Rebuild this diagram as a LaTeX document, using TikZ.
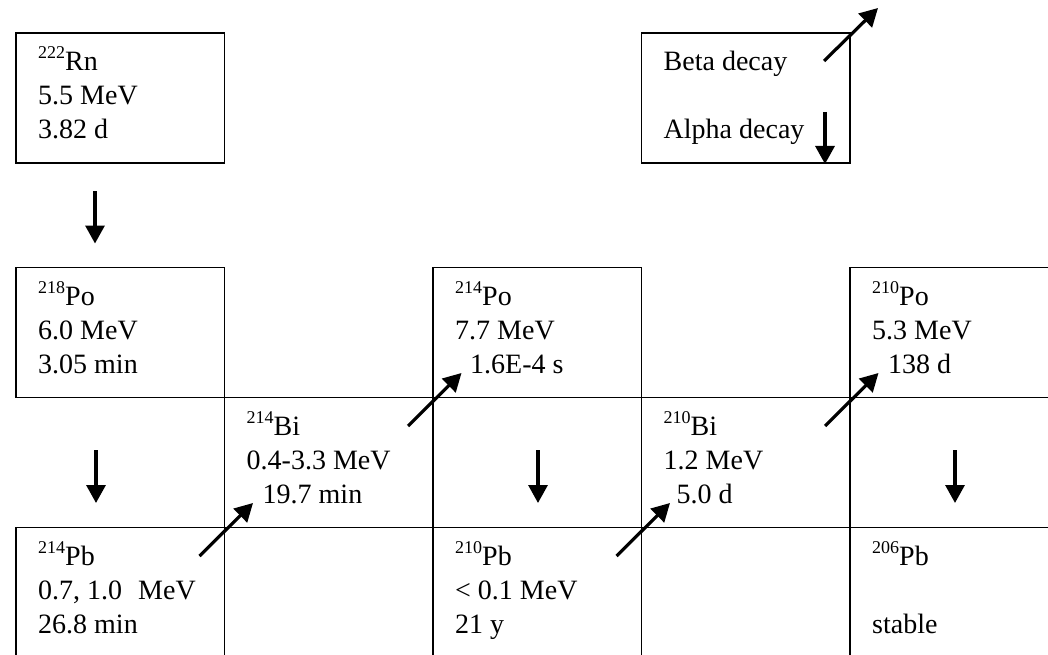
\documentclass[tikz,border=0pt]{standalone}
\usepackage{fontspec}
\setmainfont{Liberation Serif}
\usetikzlibrary{arrows.meta}
\newcommand\iso[2]{{\fontsize{18}{18}\selectfont\raisebox{12pt}{#1}}#2}
\newcommand\cellbox[6]{%
  \node[cell] (#1) at (#2pt,#3pt) {};
  \node[txt] (#1-a) at ([shift={(22pt,-37.5pt)}]#1.north west) {#4};
  \node[txt] (#1-b) at ([shift={(22pt,-71.5pt)}]#1.north west) {#5};
  \node[txt] (#1-c) at ([shift={(22pt,-105.5pt)}]#1.north west) {#6};
}
\begin{document}
\begin{tikzpicture}[x=1pt,y=1pt,
  cell/.style={draw,line width=1.6pt,anchor=north west,minimum width=208.5pt,minimum height=130pt,inner sep=0pt,outer sep=0pt},
  txt/.style={anchor=base west,inner sep=0pt,font=\fontsize{28}{34}\selectfont},
  decay/.style={line width=3.2pt,-{Triangle[width=19pt,length=18pt]}}]
\useasboundingbox (0,-655) rectangle (1048,0);
\clip (0,-655) rectangle (1048,0);
% boxes
\cellbox{rn}{16}{-33}{\iso{222}{Rn}}{5.5 MeV}{3.82 d}
\cellbox{legend}{641.5}{-33}{Beta decay}{}{Alpha decay}
\cellbox{po218}{16}{-267.5}{\iso{218}{Po}}{6.0 MeV}{3.05 min}
\cellbox{bi214}{224.5}{-397.5}{\iso{214}{Bi}}{0.4-3.3 MeV}{\hspace{16pt}19.7 min}
\cellbox{pb214}{16}{-527.5}{\iso{214}{Pb}}{0.7, 1.0\hspace{16pt}MeV}{26.8 min}
\cellbox{po214}{433}{-267.5}{\iso{214}{Po}}{7.7 MeV}{\hspace{15pt}1.6E-4 s}
\cellbox{pb210}{433}{-527.5}{\iso{210}{Pb}}{< 0.1 MeV}{21 y}
\cellbox{bi210}{641.5}{-397.5}{\iso{210}{Bi}}{1.2 MeV}{\hspace{13pt}5.0 d}
\cellbox{po210}{850}{-267.5}{\iso{210}{Po}}{5.3 MeV}{\hspace{16pt}138 d}
\cellbox{pb206}{850}{-527.5}{\iso{206}{Pb}}{}{stable}
% alpha decays
\draw[decay] ([shift={(79pt,-28pt)}]rn.south west) -- ([shift={(79pt,24pt)}]po218.north west);
\draw[decay] ([shift={(80pt,-52.5pt)}]po218.south west) -- ([shift={(80pt,24.5pt)}]pb214.north west);
\draw[decay] ([shift={(105pt,-52.5pt)}]po214.south west) -- ([shift={(105pt,24.5pt)}]pb210.north west);
\draw[decay] ([shift={(105pt,-52.5pt)}]po210.south west) -- ([shift={(105pt,24.5pt)}]pb206.north west);
% beta decays
\draw[decay] ([shift={(-25pt,-28.5pt)}]pb214.north east) -- ([shift={(28.5pt,24.5pt)}]bi214.south west);
\draw[decay] ([shift={(-25pt,-28.5pt)}]bi214.north east) -- ([shift={(28.5pt,24.5pt)}]po214.south west);
\draw[decay] ([shift={(-25pt,-28.5pt)}]pb210.north east) -- ([shift={(28.5pt,24.5pt)}]bi210.south west);
\draw[decay] ([shift={(-25pt,-28.5pt)}]bi210.north east) -- ([shift={(28.5pt,24.5pt)}]po210.south west);
% legend arrows
\draw[decay] ([shift={(-26pt,-28pt)}]legend.north east) -- ([shift={(28pt,25pt)}]legend.north east);
\draw[decay] ([shift={(-25pt,51pt)}]legend.south east) -- ([shift={(-25pt,-1pt)}]legend.south east);
\end{tikzpicture}
\end{document}
